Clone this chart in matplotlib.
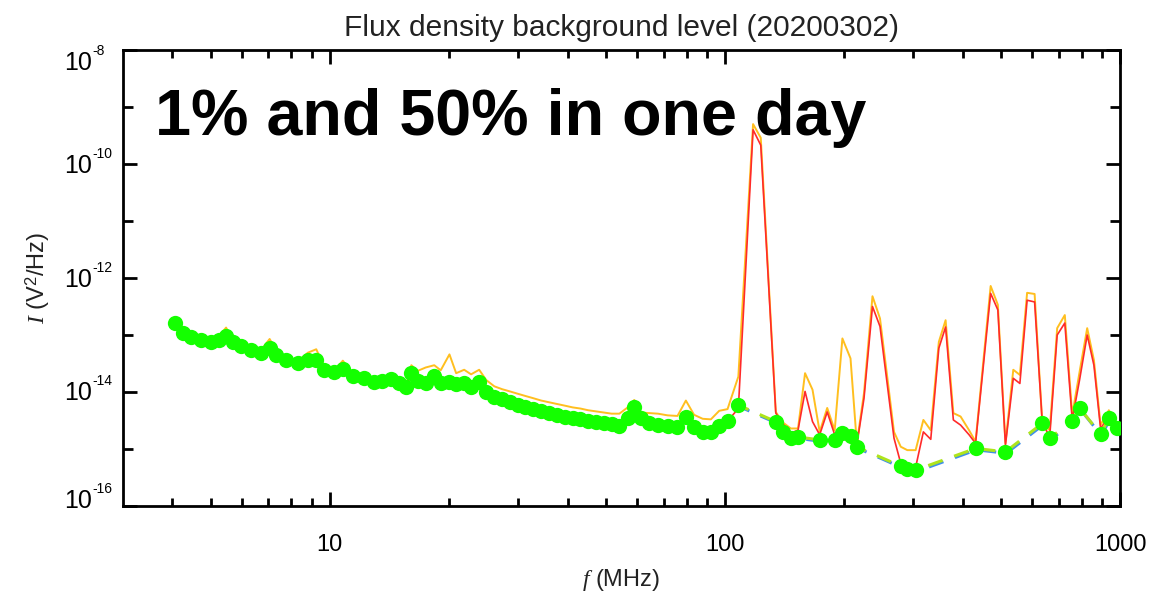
import numpy as np
import matplotlib
matplotlib.use("Agg")
import matplotlib.pyplot as plt
from matplotlib.transforms import ScaledTranslation, blended_transform_factory
from matplotlib.ticker import NullFormatter

plt.rcParams['font.family'] = ['Liberation Sans', 'DejaVu Sans']
plt.rcParams['mathtext.fontset'] = 'custom'
plt.rcParams['mathtext.rm'] = 'Liberation Sans'
plt.rcParams['mathtext.it'] = 'Liberation Serif:italic'
plt.rcParams['mathtext.bf'] = 'Liberation Sans:bold'

# frequency grid (MHz)
freq = [4.05, 4.26, 4.47, 4.73, 5.0, 5.26, 5.47, 5.69, 5.98, 6.33,
        6.71, 7.05, 7.33, 7.77, 8.31, 8.81, 9.25, 9.70, 10.28, 10.8,
        11.45, 12.25, 12.98, 13.6, 14.3, 15.0, 15.6,
        16.1, 16.7, 17.5, 18.4, 19.1, 20.1, 20.9, 21.9, 22.8, 23.9,
        24.9, 26.1, 27.3, 28.6, 29.9, 31.3, 32.8, 34.3, 35.9, 37.6,
        39.4, 41.2, 43.1, 45.1, 47.2, 49.4, 51.7, 54.1, 56.8, 59.0,
        61.4, 64.4, 67.7, 71.7, 75.9, 79.7, 83.6, 87.9, 92.2, 96.8,
        101.6, 108.2,
        117.9, 123.3, 134.6, 140.0, 146.9, 153.2, 159.6, 166.7, 173.8, 181.6,
        189.7, 198.4, 208.0, 215.8, 225.0, 236.4, 247.0, 257.8, 268.0, 278.7,
        289.6, 304.0, 318.0, 332.0, 348.0, 362.0, 378.7, 395.0, 415.0, 431.0,
        470.6, 490.8, 513.0, 537.0, 558.0, 582.0, 608.0, 636.0, 664.0, 693.5,
        725.0, 757.0, 790.0, 826.0, 859.0, 893.0, 937.0, 985.0]

# log10 of flux density, 1% level (red)
red_log = [-12.79, -12.97, -13.03, -13.09, -13.13, -13.09, -13.02, -13.13, -13.20, -13.26,
           -13.31, -13.23, -13.35, -13.43, -13.49, -13.44, -13.44, -13.61, -13.65, -13.59,
           -13.72, -13.76, -13.82, -13.80, -13.78, -13.85, -13.92,
           -13.67, -13.80, -13.84, -13.72, -13.85, -13.82, -13.86, -13.85, -13.91, -13.82,
           -14.00, -14.08, -14.13, -14.18, -14.22, -14.26, -14.30, -14.34, -14.37, -14.40,
           -14.43, -14.46, -14.48, -14.51, -14.53, -14.55, -14.57, -14.60, -14.45, -14.27,
           -14.46, -14.55, -14.58, -14.60, -14.61, -14.44, -14.61, -14.70, -14.70, -14.59,
           -14.51, -14.29,
           -9.40, -9.67, -14.37, -14.55, -14.72, -14.67, -13.99, -14.52, -14.75, -14.35,
           -14.75, -14.72, -14.72, -14.93, -14.11, -12.50, -12.85, -13.88, -14.81, -15.25,
           -15.31, -15.32, -14.70, -14.83, -13.23, -12.86, -14.49, -14.58, -14.75, -14.90,
           -12.27, -12.56, -14.93, -13.76, -13.85, -12.39, -12.42, -14.55, -14.78, -13.00,
           -12.79, -14.49, -13.79, -13.00, -13.53, -14.64, -14.43, -14.63]

# log10 of flux density, 50% level (orange)
orange_log = [-12.76, -12.94, -12.99, -13.05, -13.10, -13.01, -12.87, -13.09, -13.16, -13.23,
              -13.26, -13.07, -13.28, -13.39, -13.46, -13.31, -13.25, -13.56, -13.62, -13.45,
              -13.69, -13.73, -13.79, -13.77, -13.75, -13.82, -13.89,
              -13.53, -13.63, -13.57, -13.53, -13.62, -13.34, -13.67, -13.61, -13.69, -13.61,
              -13.79, -13.90, -13.95, -13.99, -14.03, -14.07, -14.11, -14.15, -14.18, -14.21,
              -14.24, -14.27, -14.29, -14.32, -14.34, -14.36, -14.38, -14.38, -14.27, -14.14,
              -14.36, -14.37, -14.38, -14.41, -14.42, -14.15, -14.40, -14.47, -14.48, -14.33,
              -14.30, -13.73,
              -9.30, -9.54, -14.35, -14.53, -14.64, -14.64, -13.67, -13.96, -14.70, -14.28,
              -14.67, -13.06, -13.41, -14.90, -14.02, -12.32, -12.71, -13.75, -14.70, -14.96,
              -15.02, -15.02, -14.49, -14.67, -13.12, -12.74, -14.37, -14.43, -14.67, -14.87,
              -12.14, -12.47, -14.90, -13.61, -13.70, -12.26, -12.28, -14.55, -14.67, -12.88,
              -12.65, -14.40, -13.65, -12.88, -13.44, -14.58, -14.32, -14.58]

# log10 of background level (green dots), nan where no background point
bg_log = [-12.79, -12.97, -13.03, -13.09, -13.13, -13.09, -13.02, -13.13, -13.20, -13.26,
          -13.31, -13.23, -13.35, -13.43, -13.49, -13.44, -13.44, -13.61, -13.65, -13.59,
          -13.72, -13.76, -13.82, -13.80, -13.78, -13.85, -13.92,
          -13.67, -13.80, -13.84, -13.72, -13.85, -13.82, -13.86, -13.85, -13.91, -13.82,
          -14.00, -14.08, -14.13, -14.18, -14.22, -14.26, -14.30, -14.34, -14.37, -14.40,
          -14.43, -14.46, -14.48, -14.51, -14.53, -14.55, -14.57, -14.60, -14.45, -14.27,
          -14.46, -14.55, -14.58, -14.60, -14.61, -14.44, -14.61, -14.70, -14.70, -14.59,
          -14.51, -14.23,
          np.nan, np.nan, -14.52, -14.70, -14.81, -14.79, np.nan, np.nan, -14.84, np.nan,
          -14.84, -14.72, -14.78, -14.96, np.nan, np.nan, np.nan, np.nan, np.nan, -15.30,
          -15.35, -15.37, np.nan, np.nan, np.nan, np.nan, np.nan, np.nan, np.nan, -14.99,
          np.nan, np.nan, -15.05, np.nan, np.nan, np.nan, np.nan, -14.55, -14.81, np.nan,
          np.nan, -14.51, -14.28, np.nan, np.nan, -14.74, -14.46, -14.64]

ytick_exp = ['-16', '-14', '-12', '-10', '-8']
ytick_dy = [-5, 1, 2, 2, 13]   # pixel nudge of each label, down is positive

f = np.array(freq)
red = 10 ** np.array(red_log)
orange = 10 ** np.array(orange_log)
bg = 10 ** np.array(bg_log)
ok = ~np.isnan(bg)

fig = plt.figure(figsize=(11.54, 5.97), dpi=100)
ax = fig.add_axes([123 / 1154, 1 - 506 / 597, 997 / 1154, 456 / 597])

ax.plot(f, orange, color='#ffbf1f', lw=1.4, zorder=2)
ax.plot(f, red, color='#ff2a2a', lw=1.2, zorder=3)

shift = ax.transData + ScaledTranslation(0.6 / 72, -1.0 / 72, fig.dpi_scale_trans)
ax.plot(f[ok], bg[ok], color='#3f8fe8', lw=2.2, dashes=(5, 4), transform=shift, zorder=4)
ax.plot(f[ok], bg[ok], color='#aee41c', lw=2.2, dashes=(5, 4), zorder=5)
ax.plot(f[ok], bg[ok], 'o', color='#14ff00', ms=11, mec='none', zorder=6)

ax.set_xscale('log')
ax.set_yscale('log')
ax.set_xlim(3, 1000)
ax.set_ylim(1e-16, 1e-8)

ax.set_xticks([10, 100, 1000], ['10', '100', '1000'])
ax.set_xticks([4, 5, 6, 7, 8, 9, 20, 30, 40, 50, 60, 70, 80, 90,
               200, 300, 400, 500, 600, 700, 800, 900], minor=True)
ax.xaxis.set_minor_formatter(NullFormatter())
ax.set_yticks([10.0 ** int(e) for e in ytick_exp])
ax.set_yticks([1e-15, 1e-13, 1e-11, 1e-9], minor=True)
ax.yaxis.set_major_formatter(NullFormatter())
ax.yaxis.set_minor_formatter(NullFormatter())

ax.tick_params(which='both', direction='in', top=True, right=True, width=2,
               labelsize=17, colors='black')
ax.tick_params(axis='x', which='major', length=10, pad=20)
ax.tick_params(axis='x', which='minor', length=6)
ax.tick_params(axis='y', which='major', length=10)
ax.tick_params(axis='y', which='minor', length=7)
for s in ax.spines.values():
    s.set_linewidth(2)

# y labels as "10" with a small raised exponent, like the original
ymix = blended_transform_factory(ax.transAxes, ax.transData)
for e, dy in zip(ytick_exp, ytick_dy):
    v = 10.0 ** int(e)
    ax.text(0, v, '10', fontsize=18, ha='right', va='center', clip_on=False,
            transform=ymix + ScaledTranslation(-0.31, -dy / 100, fig.dpi_scale_trans))
    ax.text(0, v, e, fontsize=10, ha='left', va='bottom', clip_on=False,
            transform=ymix + ScaledTranslation(-0.305, (5 - dy) / 100, fig.dpi_scale_trans))

ax.set_xlabel('$f$ (MHz)', fontsize=17, labelpad=8, color='#222222')
ax.set_ylabel('$I$ (V$^2$/Hz)', fontsize=17, color='#222222')
ax.yaxis.set_label_coords(-0.071, 0.5)
ax.set_title('Flux density background level (20200302)', fontsize=21.5,
             pad=10, color='#222222')

ax.text(0.032, 0.8136, '1% and 50% in one day', transform=ax.transAxes,
        fontsize=46.5, fontweight='bold', va='baseline', ha='left')

fig.savefig('out.png', dpi=100)
